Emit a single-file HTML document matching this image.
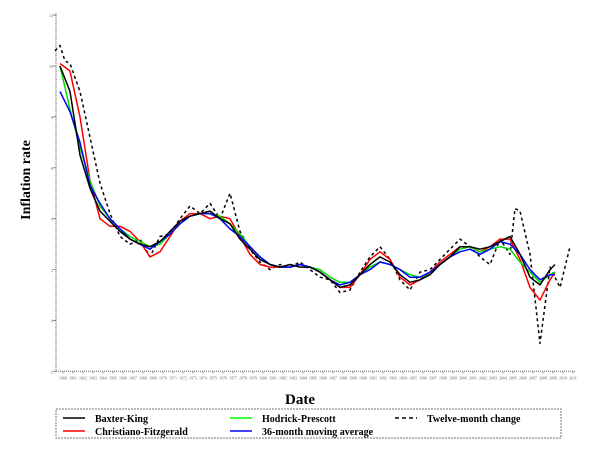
<!DOCTYPE html>
<html><head><meta charset="utf-8">
<style>
html,body{margin:0;padding:0;background:#fff;}
body{width:600px;height:446px;overflow:hidden;font-family:"Liberation Serif",serif;}
svg text{font-family:"Liberation Serif",serif;}
</style></head>
<body>
<svg id="chart" width="600" height="446" viewBox="0 0 600 446" xmlns="http://www.w3.org/2000/svg">
<g id="axes"></g>
<g id="series"></g>
<text x="30" y="180" transform="rotate(-90 30 180)" text-anchor="middle" font-size="14" font-weight="bold">Inflation rate</text>
<text x="300" y="404" text-anchor="middle" font-size="15" font-weight="bold">Date</text>
<g>
<rect x="56" y="409" width="505" height="29" fill="none" stroke="#777" stroke-width="1" stroke-dasharray="2,1"/>
<g><line x1="63" y1="418" x2="85" y2="418" stroke="#000" stroke-width="1.5"/><text x="95" y="422" font-size="10" font-weight="bold">Baxter-King</text></g>
<g><line x1="63" y1="431" x2="85" y2="431" stroke="#f00" stroke-width="1.5"/><text x="95" y="435" font-size="10" font-weight="bold">Christiano-Fitzgerald</text></g>
<g><line x1="230" y1="418" x2="252" y2="418" stroke="#0f0" stroke-width="1.5"/><text x="262" y="422" font-size="10" font-weight="bold">Hodrick-Prescott</text></g>
<g><line x1="230" y1="431" x2="252" y2="431" stroke="#00f" stroke-width="1.5"/><text x="262" y="435" font-size="10" font-weight="bold">36-month moving average</text></g>
<g><line x1="395" y1="418" x2="417" y2="418" stroke="#000" stroke-width="1.5" stroke-dasharray="4,3"/><text x="427" y="422" font-size="10" font-weight="bold">Twelve-month change</text></g>
</g>
</svg>
<script>
const positions = [0,1,2,3,4,5,6,7,8,9,10,11,12,13,14,15,16,17,18,19,20,21,22,23,24,25,26,27,28,29,30,31,32,33,34,35,36,37,38,39,40,41,42,43,44,45,46,47,48,49,49.5];
const baxterKing = [10,9,6.5,5.2,4.3,3.9,3.5,3.2,3,2.9,3.1,3.5,3.9,4.1,4.2,4.3,4,3.8,3.2,2.8,2.4,2.2,2.1,2.2,2.1,2.1,1.9,1.6,1.3,1.4,1.8,2.2,2.5,2.3,1.8,1.5,1.6,1.8,2.2,2.5,2.9,2.9,2.8,2.9,3.1,3.3,2.6,1.7,1.4,2,2.2];
const christianoFitzgerald = [10.1,9.8,8,5.5,4,3.7,3.7,3.5,3.1,2.5,2.7,3.3,3.9,4.2,4.2,4,4.1,4,3.3,2.6,2.2,2.1,2.1,2.1,2.2,2.1,1.9,1.6,1.3,1.3,1.8,2.4,2.7,2.4,1.7,1.4,1.6,1.9,2.3,2.6,2.9,2.9,2.7,2.9,3.2,3.2,2.4,1.3,0.8,1.6,1.9];
const hodrickPrescott = [10,8.3,6.8,5.5,4.5,4,3.6,3.3,3.1,2.9,3,3.4,3.8,4.1,4.2,4.2,4.1,3.8,3.4,2.9,2.5,2.2,2.1,2.1,2.2,2.1,2,1.7,1.5,1.5,1.8,2.1,2.3,2.2,2,1.8,1.7,1.8,2.2,2.5,2.8,2.9,2.7,2.8,2.9,2.8,2.3,1.9,1.5,1.8,1.9];
const movingAverage = [9,8.2,7,5.3,4.6,4,3.6,3.2,3,2.8,3.1,3.4,3.8,4.1,4.2,4.2,4,3.6,3.3,2.9,2.5,2.2,2.1,2.1,2.2,2.1,1.9,1.6,1.4,1.5,1.8,2,2.3,2.2,2,1.7,1.7,1.9,2.2,2.5,2.7,2.8,2.6,2.8,3.1,3,2.6,2,1.6,1.8,1.8];
const twelveMonthPositions = [-0.5,0,0.5,1,2,3,4,5,6,7,8,9,10,11,12,13,14,15,16,17,18,19,20,21,22,23,24,25,26,27,28,29,30,31,32,33,34,35,36,37,38,39,40,41,42,43,44,45,45.5,46,47,48,49,50,51];
const twelveMonth = [10.6,10.8,10.2,10.1,9,7.2,5.4,4.2,3.3,3,3.2,2.5,3.3,3.4,4,4.5,4.2,4.6,4,5,3.5,2.8,2.3,2,2.2,2.1,2.3,2,1.7,1.6,1.1,1.2,1.9,2.5,2.9,2.4,1.6,1.2,1.9,2,2.4,2.8,3.2,2.9,2.5,2.2,3.2,2.6,4.4,4.3,2.6,-0.9,2.1,1.3,2.9];
const yTicks = [-2,0,2,4,6,8,10,12];
const xTickLabels = [];
for (let i = 0; i <= 51; i++) xTickLabels.push(String(1960 + i));

const X0 = 60, XS = 10.0, Y0 = 320.5, YS = 25.45;
function xScale(t){ return X0 + t * XS; }
function yScale(v){ return Y0 - v * YS; }
const NS = "http://www.w3.org/2000/svg";
const axes = document.getElementById('axes');
const series = document.getElementById('series');
function mk(tag, attrs, parent){ const e = document.createElementNS(NS, tag); for (const k in attrs) e.setAttribute(k, attrs[k]); parent.appendChild(e); return e; }

const yAxis = mk('line', {x1:56, y1:yScale(12)-2, x2:56, y2:yScale(-2), stroke:'#888', 'stroke-width':1.5, 'stroke-dasharray':'1,1'}, axes);


const xAxis = mk('line', {x1:56, y1:yScale(-2), x2:575, y2:yScale(-2), stroke:'#888', 'stroke-width':1.5, 'stroke-dasharray':'1,1'}, axes);


yTicks.forEach(v => {
  const t = mk('text', {x:53, y:yScale(v)+2, 'text-anchor':'end', 'font-size':4, fill:'#666'}, axes);
  t.textContent = v;
  
  
  mk('line', {x1:53, y1:yScale(v), x2:56, y2:yScale(v), stroke:'#888'}, axes);
});
xTickLabels.forEach((lab, i) => {
  const x = xScale(i) + 3;
  mk('line', {x1:x, y1:yScale(-2), x2:x, y2:yScale(-2)+2, stroke:'#888'}, axes);
  const t = mk('text', {x:x, y:yScale(-2)+8, 'text-anchor':'middle', 'font-size':4, fill:'#666'}, axes);
  t.textContent = lab;
  
  
});
function path(xs, vals, color, dash, name){
  const d = vals.map((v,i) => (i ? 'L' : 'M') + xScale(xs[i]).toFixed(1) + ',' + yScale(v).toFixed(1)).join(' ');
  const p = mk('path', {d:d, fill:'none', stroke:color, 'stroke-width':1.5, 'stroke-linejoin':'round'}, series);
  if (dash) p.setAttribute('stroke-dasharray', dash);
  
  
}
path(twelveMonthPositions, twelveMonth, '#000', '3,3', 'series-twelve-month-change');
path(positions, christianoFitzgerald, '#f00', null, 'series-christiano-fitzgerald');
path(positions, hodrickPrescott, '#0d0', null, 'series-hodrick-prescott');
path(positions, movingAverage, '#00f', null, 'series-moving-average');
path(positions, baxterKing, '#000', null, 'series-baxter-king');
</script>
</body></html>
